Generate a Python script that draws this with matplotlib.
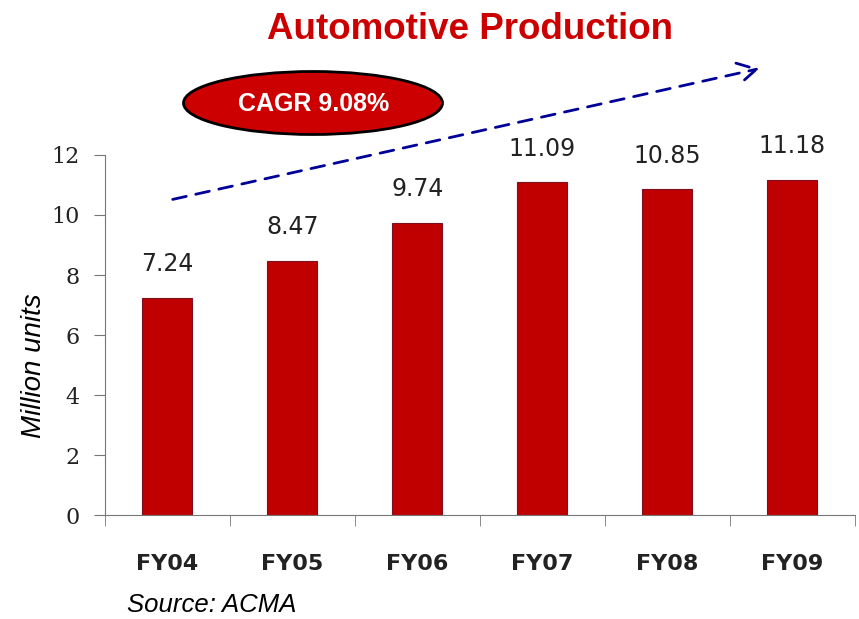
import matplotlib.pyplot as plt
from matplotlib.patches import Ellipse, FancyArrowPatch

# -----------------------------
# Data
# -----------------------------
years = ["FY04", "FY05", "FY06", "FY07", "FY08", "FY09"]
production = [7.24, 8.47, 9.74, 11.09, 10.85, 11.18]
cagr_text = "CAGR 9.08%"

bar_red = "#C00000"

fig = plt.figure(figsize=(8.59, 6.19), dpi=100)
ax = fig.add_axes([0.1222, 0.168, 0.8731, 0.5816])

x = range(len(years))
ax.bar(x, production, width=0.4, color=bar_red, edgecolor="#7a1020", linewidth=0.8, zorder=2)

for i, v in enumerate(production):
    ax.text(i, v + 1.12, f"{v:.2f}", ha="center", va="center", fontsize=17,
            family="DejaVu Sans", color="#222222")

ax.set_xlim(-0.5, len(years) - 0.5)
ax.set_ylim(0, 12)
ax.set_yticks(range(0, 13, 2))
ax.set_xticks(x)
ax.set_xticklabels(years, fontsize=16, fontweight="bold", color="#222222")
ax.set_xticks([i - 0.5 for i in range(len(years) + 1)], minor=True)
ax.tick_params(axis="x", which="major", length=0, pad=28)
ax.tick_params(axis="x", which="minor", length=8, color="#777777", direction="out")
ax.tick_params(axis="y", length=8, color="#777777", labelsize=16, pad=10, labelcolor="#222222")
for lbl in ax.get_yticklabels():
    lbl.set_family("DejaVu Serif")

ax.spines["top"].set_visible(False)
ax.spines["right"].set_visible(False)
ax.spines["left"].set_color("#777777")
ax.spines["bottom"].set_color("#777777")

# -----------------------------
# Text
# -----------------------------
fig.text(0.547, 0.953, "Automotive Production", ha="center", va="center",
         fontsize=26.5, fontweight="bold", color="#CC0000", family="Liberation Sans")
fig.text(0.040, 0.41, "Million units", rotation=90, ha="center", va="center",
         fontsize=20, style="italic", family="Liberation Sans")
fig.text(0.148, 0.022, "Source: ACMA", ha="left", va="center",
         fontsize=18.5, style="italic", family="Liberation Sans")

# CAGR ellipse
ell = Ellipse((313 / 859, 1 - 103 / 619), 259 / 859, 63 / 619, transform=fig.transFigure,
              facecolor="#CC0000", edgecolor="black", linewidth=2)
fig.patches.append(ell)
fig.text(314 / 859, 1 - 104 / 619, cagr_text, ha="center", va="center",
         fontsize=18, fontweight="bold", color="white", family="Liberation Sans")

# trend arrow
arrow = FancyArrowPatch((170 / 859, 1 - 200 / 619), (762 / 859, 1 - 68 / 619),
                        transform=fig.transFigure, arrowstyle="->,head_length=9,head_width=5",
                        linestyle=(0, (5, 3.5)), color="#000099", linewidth=2,
                        mutation_scale=1.5)
fig.patches.append(arrow)

fig.savefig("out.png", dpi=100)
